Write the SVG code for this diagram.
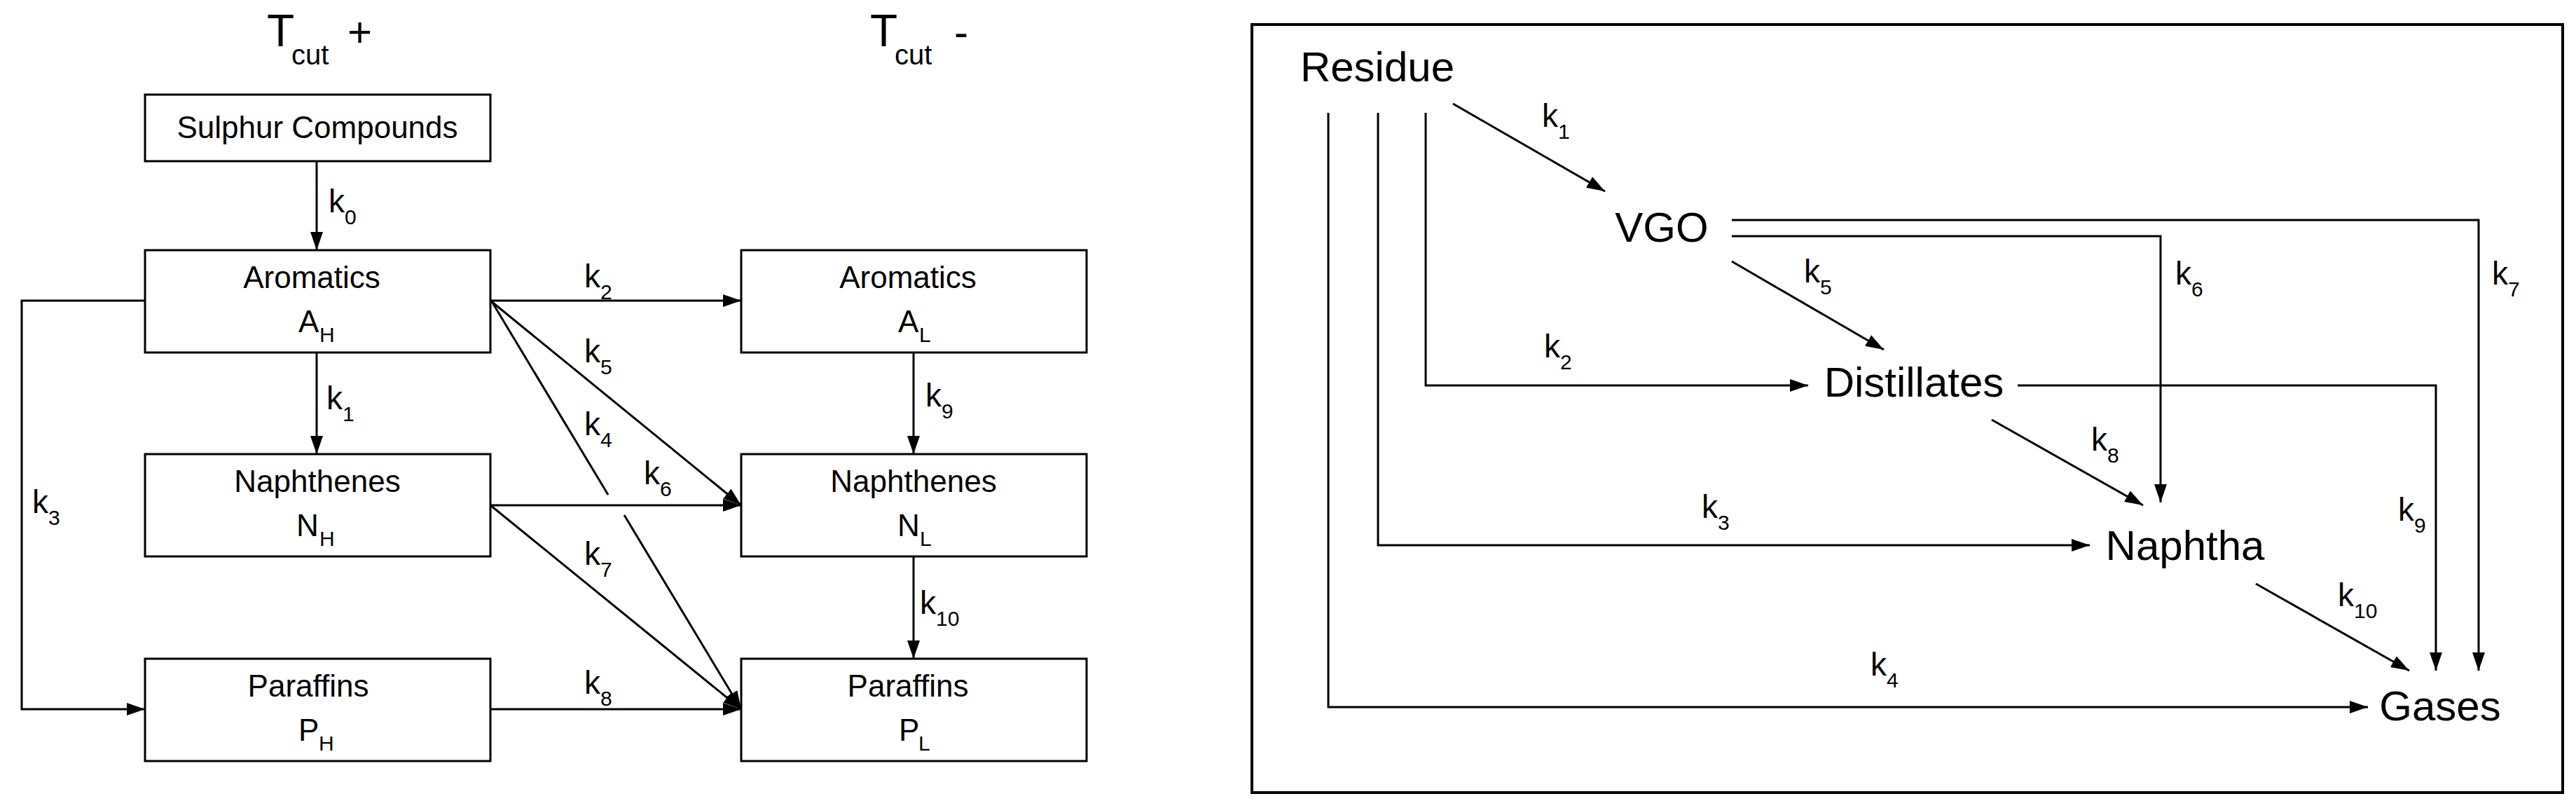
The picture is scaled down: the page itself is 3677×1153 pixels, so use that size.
<svg xmlns="http://www.w3.org/2000/svg" width="3677" height="1153" viewBox="0 0 3677 1153">
<style>
text{font-family:"Liberation Sans",Arial,sans-serif;fill:#000}
.n{font-size:44px;text-anchor:middle}
.big{font-size:60px;text-anchor:middle}
.k{font-size:46px}
.s{font-size:30px}
.box{fill:#fff;stroke:#000;stroke-width:3}
.c line,.c polyline{stroke:#000;stroke-width:3;fill:none}
.a{marker-end:url(#ar)}
</style>
<defs>
<marker id="ar" markerUnits="userSpaceOnUse" markerWidth="28" markerHeight="18" refX="26" refY="9" orient="auto"><path d="M0,0 L26,9 L0,18 Z" fill="#000"/></marker>
</defs>
<rect width="3677" height="1153" fill="#fff"/>
<g id="hdr-plus"><text x="381" y="66" style="font-size:64px">T</text><text x="416" y="92" style="font-size:40px">cut</text><text x="496" y="66" style="font-size:60px">+</text></g>
<g id="hdr-minus"><text x="1242" y="66" style="font-size:64px">T</text><text x="1277" y="92" style="font-size:40px">cut</text><text x="1362" y="66" style="font-size:60px">-</text></g>
<g id="sulphur"><rect class="box" x="207" y="135" width="493" height="95"/><text class="n" x="453" y="197">Sulphur Compounds</text></g>
<g id="AH"><rect class="box" x="207" y="357" width="493" height="146"/><text class="n" x="445" y="411">Aromatics</text><text x="426" y="474" style="font-size:44px">A</text><text x="456" y="488" class="s">H</text></g>
<g id="NH"><rect class="box" x="207" y="648" width="493" height="146"/><text class="n" x="453" y="702">Naphthenes</text><text x="423" y="765" style="font-size:44px">N</text><text x="456" y="779" class="s">H</text></g>
<g id="PH"><rect class="box" x="207" y="940" width="493" height="146"/><text class="n" x="440" y="994">Paraffins</text><text x="426" y="1057" style="font-size:44px">P</text><text x="455" y="1071" class="s">H</text></g>
<g id="AL"><rect class="box" x="1058" y="357" width="493" height="146"/><text class="n" x="1296" y="411">Aromatics</text><text x="1282" y="474" style="font-size:44px">A</text><text x="1312" y="488" class="s">L</text></g>
<g id="NL"><rect class="box" x="1058" y="648" width="493" height="146"/><text class="n" x="1304" y="702">Naphthenes</text><text x="1281" y="765" style="font-size:44px">N</text><text x="1313" y="779" class="s">L</text></g>
<g id="PL"><rect class="box" x="1058" y="940" width="493" height="146"/><text class="n" x="1296" y="994">Paraffins</text><text x="1283" y="1057" style="font-size:44px">P</text><text x="1311" y="1071" class="s">L</text></g>
<rect x="1787" y="35" width="1871" height="1096" fill="none" stroke="#000" stroke-width="4"/>
<g id="residue"><text class="big" x="1966" y="116">Residue</text></g>
<g id="vgo"><text class="big" x="2372" y="345">VGO</text></g>
<g id="distillates"><text class="big" x="2732" y="566">Distillates</text></g>
<g id="naphtha"><text class="big" x="3119" y="799">Naphtha</text></g>
<g id="gases"><text class="big" x="3483" y="1028">Gases</text></g>
<g id="connectors" class="c">
<line class="a" x1="452" y1="230" x2="452" y2="357"/>
<line class="a" x1="452" y1="503" x2="452" y2="648"/>
<polyline class="a" points="207,429 31,429 31,1012 207,1012"/>
<line class="a" x1="700" y1="429" x2="1058" y2="429"/>
<line class="a" x1="700" y1="429" x2="1058" y2="721"/>
<line x1="703" y1="432" x2="868" y2="706"/>
<line class="a" x1="891" y1="735" x2="1058" y2="1012"/>
<line class="a" x1="700" y1="721" x2="1058" y2="721"/>
<line class="a" x1="700" y1="721" x2="1058" y2="1012"/>
<line class="a" x1="700" y1="1012" x2="1058" y2="1012"/>
<line class="a" x1="1304" y1="503" x2="1304" y2="648"/>
<line class="a" x1="1304" y1="794" x2="1304" y2="940"/>
<polyline class="a" points="1896,161 1896,1009 3380,1009"/>
<polyline class="a" points="1967,161 1967,778 2983,778"/>
<polyline class="a" points="2035,161 2035,550 2581,550"/>
<line class="a" x1="2074" y1="148" x2="2291" y2="273"/>
<polyline class="a" points="2472,314 3538,314 3538,957"/>
<polyline class="a" points="2472,337 3084,337 3084,717"/>
<line class="a" x1="2472" y1="373" x2="2689" y2="499"/>
<polyline class="a" points="2880,550 3477,550 3477,957"/>
<line class="a" x1="2843" y1="599" x2="3059" y2="721"/>
<line class="a" x1="3220" y1="833" x2="3439" y2="957"/>
</g>
<g id="labels">
<text class="k" x="469" y="303">k</text><text class="s" x="492" y="320">0</text>
<text class="k" x="466" y="584">k</text><text class="s" x="489" y="601">1</text>
<text class="k" x="834" y="410">k</text><text class="s" x="857" y="427">2</text>
<text class="k" x="834" y="517">k</text><text class="s" x="857" y="534">5</text>
<text class="k" x="834" y="621">k</text><text class="s" x="857" y="638">4</text>
<text class="k" x="919" y="691">k</text><text class="s" x="942" y="708">6</text>
<text class="k" x="834" y="806">k</text><text class="s" x="857" y="823">7</text>
<text class="k" x="834" y="990">k</text><text class="s" x="857" y="1007">8</text>
<text class="k" x="46" y="732">k</text><text class="s" x="69" y="749">3</text>
<text class="k" x="1321" y="580">k</text><text class="s" x="1344" y="597">9</text>
<text class="k" x="1313" y="876">k</text><text class="s" x="1336" y="893">10</text>
<text class="k" x="2201" y="181">k</text><text class="s" x="2224" y="198">1</text>
<text class="k" x="2575" y="403">k</text><text class="s" x="2598" y="420">5</text>
<text class="k" x="2204" y="510">k</text><text class="s" x="2227" y="527">2</text>
<text class="k" x="3105" y="406">k</text><text class="s" x="3128" y="423">6</text>
<text class="k" x="3557" y="406">k</text><text class="s" x="3580" y="423">7</text>
<text class="k" x="2985" y="643">k</text><text class="s" x="3008" y="660">8</text>
<text class="k" x="2429" y="739">k</text><text class="s" x="2452" y="756">3</text>
<text class="k" x="3423" y="743">k</text><text class="s" x="3446" y="760">9</text>
<text class="k" x="3337" y="865">k</text><text class="s" x="3360" y="882">10</text>
<text class="k" x="2670" y="964">k</text><text class="s" x="2693" y="981">4</text>
</g>
</svg>
